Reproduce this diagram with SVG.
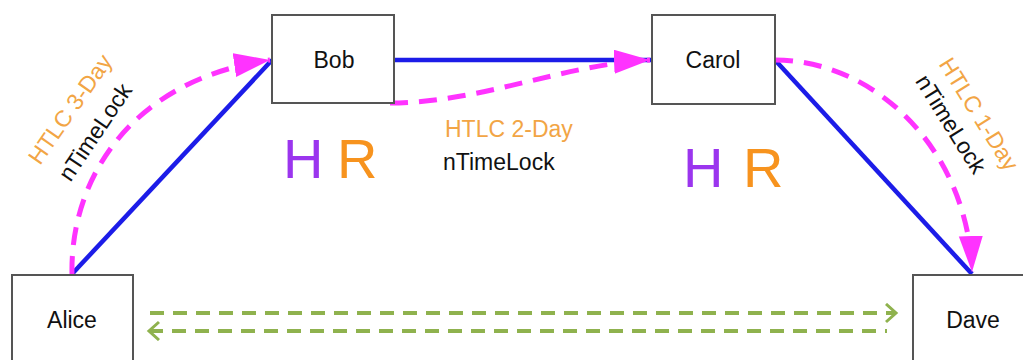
<svg xmlns="http://www.w3.org/2000/svg" width="1023" height="360" viewBox="0 0 1023 360">
  <style>
    .box { fill: #ffffff; stroke: #555555; stroke-width: 2; }
    .name { font-family: "Liberation Sans", Arial, sans-serif; font-size: 23px; fill: #111111; text-anchor: middle; }
    .chan { stroke: #1c1ce8; stroke-width: 4.5; fill: none; }
    .htlc { stroke: #ff33ff; stroke-width: 5; fill: none; stroke-dasharray: 18 11; }
    .msg { stroke: #8fb24e; stroke-width: 4; fill: none; stroke-dasharray: 14 9; }
    .lbl { font-family: "Liberation Sans", Arial, sans-serif; font-size: 23px; }
    .orange { fill: #f2a545; }
    .black { fill: #111111; }
    .big { font-family: "Liberation Sans", Arial, sans-serif; font-size: 56px; }
  </style>
  <defs>
    <marker id="pink-head" markerUnits="userSpaceOnUse" markerWidth="38" markerHeight="26" refX="36" refY="12" orient="auto">
      <path d="M0,0 L36,12 L0,24 z" fill="#ff33ff"/>
    </marker>
    <marker id="green-head" markerUnits="userSpaceOnUse" markerWidth="14" markerHeight="22" refX="11" refY="10" orient="auto-start-reverse">
      <path d="M1,1 L11,10 L1,19" fill="none" stroke="#8fb24e" stroke-width="3"/>
    </marker>
  </defs>

  <rect width="1023" height="360" fill="#ffffff"/>

  <!-- payment channels and HTLC hops -->
  <g id="connectors">
    <line class="chan" x1="72" y1="274" x2="272" y2="60"/>
    <line class="chan" x1="394" y1="60" x2="652" y2="60"/>
    <line class="chan" x1="775" y1="60" x2="972" y2="274"/>

    <path class="htlc" d="M72,274 C70,180 130,80 270,60" marker-end="url(#pink-head)"/>
    <path class="htlc" d="M390,103 C480,103 565,64 650,60" marker-end="url(#pink-head)"/>
    <path class="htlc" d="M775,60 C875,60 968,150 972,272" marker-end="url(#pink-head)"/>

    <line class="msg" x1="150" y1="313" x2="896" y2="313" marker-end="url(#green-head)"/>
    <line class="msg" x1="149" y1="331" x2="887" y2="331" marker-start="url(#green-head)"/>
  </g>

  <g id="alice">
    <rect class="box" x="12" y="275" width="121" height="100"/>
    <text class="name" x="72" y="328">Alice</text>
  </g>
  <g id="bob">
    <rect class="box" x="272" y="15" width="122" height="88"/>
    <text class="name" x="334" y="68">Bob</text>
  </g>
  <g id="carol">
    <rect class="box" x="652" y="15" width="123" height="89"/>
    <text class="name" x="713" y="68">Carol</text>
  </g>
  <g id="dave">
    <rect class="box" x="913" y="275" width="120" height="100"/>
    <text class="name" x="973" y="328">Dave</text>
  </g>

  <!-- hop labels -->
  <g id="labels">
    <text class="lbl orange" text-anchor="middle" transform="translate(70,109) rotate(-55)" y="8">HTLC 3-Day</text>
    <text class="lbl black" text-anchor="middle" transform="translate(95,132) rotate(-56)" y="8">nTimeLock</text>

    <text class="lbl orange" x="445" y="137">HTLC 2-Day</text>
    <text class="lbl black" x="443" y="170">nTimeLock</text>

    <text class="lbl orange" text-anchor="middle" transform="translate(979,114) rotate(58)" y="8">HTLC 1-Day</text>
    <text class="lbl black" text-anchor="middle" transform="translate(951,124) rotate(58)" y="8">nTimeLock</text>
  </g>

  <!-- hash / preimage markers -->
  <g id="hr-bob">
    <text class="big" x="283" y="178" fill="#9b35ee">H</text>
    <text class="big" x="337" y="178" fill="#f7931e">R</text>
  </g>
  <g id="hr-carol">
    <text class="big" x="683" y="187" fill="#9b35ee">H</text>
    <text class="big" x="743" y="187" fill="#f7931e">R</text>
  </g>
</svg>
